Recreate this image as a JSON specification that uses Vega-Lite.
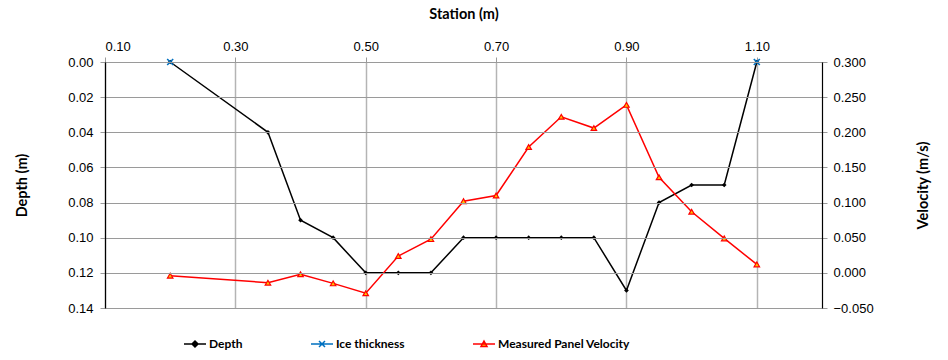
{
  "$schema": "https://vega.github.io/schema/vega-lite/v6.json",
  "width": 717,
  "height": 246,
  "autosize": "none",
  "padding": {"left": 105, "top": 62, "right": 126, "bottom": 52},
  "background": "white",
  "config": {
    "view": {"stroke": null},
    "axis": {
      "labelFont": "Liberation Sans",
      "labelFontSize": 13,
      "labelColor": "#000000",
      "titleFont": "Lato",
      "titleFontWeight": "bold",
      "titleFontSize": 14.5,
      "titleColor": "#000000",
      "tickColor": "#9a9a9a",
      "tickSize": 5,
      "domainColor": "#000000",
      "domainWidth": 1.2
    }
  },
  "datasets": {
    "depth": [
      {"station": 0.20, "series": "Depth", "value": 0.000},
      {"station": 0.35, "series": "Depth", "value": 0.040},
      {"station": 0.40, "series": "Depth", "value": 0.090},
      {"station": 0.45, "series": "Depth", "value": 0.100},
      {"station": 0.50, "series": "Depth", "value": 0.120},
      {"station": 0.55, "series": "Depth", "value": 0.120},
      {"station": 0.60, "series": "Depth", "value": 0.120},
      {"station": 0.65, "series": "Depth", "value": 0.100},
      {"station": 0.70, "series": "Depth", "value": 0.100},
      {"station": 0.75, "series": "Depth", "value": 0.100},
      {"station": 0.80, "series": "Depth", "value": 0.100},
      {"station": 0.85, "series": "Depth", "value": 0.100},
      {"station": 0.90, "series": "Depth", "value": 0.130},
      {"station": 0.95, "series": "Depth", "value": 0.080},
      {"station": 1.00, "series": "Depth", "value": 0.070},
      {"station": 1.05, "series": "Depth", "value": 0.070},
      {"station": 1.10, "series": "Depth", "value": 0.000}
    ],
    "ice": [
      {"station": 0.20, "series": "Ice thickness", "value": 0.000},
      {"station": 1.10, "series": "Ice thickness", "value": 0.000}
    ],
    "velocity": [
      {"station": 0.20, "series": "Measured Panel Velocity", "value": -0.004},
      {"station": 0.35, "series": "Measured Panel Velocity", "value": -0.014},
      {"station": 0.40, "series": "Measured Panel Velocity", "value": -0.002},
      {"station": 0.45, "series": "Measured Panel Velocity", "value": -0.015},
      {"station": 0.50, "series": "Measured Panel Velocity", "value": -0.029},
      {"station": 0.55, "series": "Measured Panel Velocity", "value": 0.024},
      {"station": 0.60, "series": "Measured Panel Velocity", "value": 0.048},
      {"station": 0.65, "series": "Measured Panel Velocity", "value": 0.102},
      {"station": 0.70, "series": "Measured Panel Velocity", "value": 0.110},
      {"station": 0.75, "series": "Measured Panel Velocity", "value": 0.179},
      {"station": 0.80, "series": "Measured Panel Velocity", "value": 0.222},
      {"station": 0.85, "series": "Measured Panel Velocity", "value": 0.206},
      {"station": 0.90, "series": "Measured Panel Velocity", "value": 0.239},
      {"station": 0.95, "series": "Measured Panel Velocity", "value": 0.136},
      {"station": 1.00, "series": "Measured Panel Velocity", "value": 0.087},
      {"station": 1.05, "series": "Measured Panel Velocity", "value": 0.049},
      {"station": 1.10, "series": "Measured Panel Velocity", "value": 0.012}
    ]
  },
  "encoding": {
    "x": {
      "field": "station",
      "type": "quantitative",
      "scale": {"domain": [0.1, 1.2], "nice": false, "zero": false},
      "axis": {
        "orient": "top",
        "title": "Station (m)",
        "values": [0.1, 0.3, 0.5, 0.7, 0.9, 1.1],
        "format": ".2f",
        "grid": true,
        "gridColor": "#b4b4b4",
        "gridWidth": 1.5,
        "labelPadding": 4,
        "titlePadding": 19
      }
    }
  },
  "layer": [
    {
      "encoding": {
        "y": {
          "field": "value",
          "type": "quantitative",
          "scale": {"domain": [0, 0.14], "reverse": true, "nice": false, "zero": false},
          "axis": {
            "orient": "left",
            "title": "Depth (m)",
            "values": [0, 0.02, 0.04, 0.06, 0.08, 0.1, 0.12, 0.14],
            "format": ".2f",
            "grid": true,
            "gridColor": "#9a9a9a",
            "gridWidth": 1,
            "labelPadding": 7,
            "titlePadding": 38,
            "zindex": 1
          }
        }
      },
      "layer": [
        {
          "data": {"name": "depth"},
          "mark": {"type": "line", "strokeWidth": 1.5},
          "encoding": {
            "color": {
              "field": "series",
              "type": "nominal",
              "scale": {
                "domain": ["Depth", "Ice thickness", "Measured Panel Velocity"],
                "range": ["#000000", "#0070C0", "#FF0000"]
              },
              "legend": {
                "orient": "none",
                "legendX": 79,
                "legendY": 271,
                "direction": "horizontal",
                "title": null,
                "labelFont": "Lato",
                "labelFontWeight": "bold",
                "labelFontSize": 12,
                "labelColor": "#000000",
                "labelLimit": 300,
                "symbolSize": 400,
                "symbolStrokeWidth": 1.5,
                "labelOffset": 3,
                "columnPadding": 65,
                "encode": {
                  "symbols": {
                    "update": {
                      "shape": {"signal": "datum.value === 'Depth' ? 'M-1.1,0H1.1M0,-0.3L0.3,0L0,0.3L-0.3,0Z' : datum.value === 'Ice thickness' ? 'M-1.1,0H1.1M-0.3,-0.3L0.3,0.3M-0.3,0.3L0.3,-0.3' : 'M-1.1,0H1.1M0,-0.3L0.3,0.25L-0.3,0.25Z'"},
                      "fill": {"signal": "datum.value === 'Depth' ? '#000000' : datum.value === 'Ice thickness' ? 'transparent' : '#FFC000'"}
                    }
                  }
                }
              }
            }
          }
        },
        {
          "data": {"name": "depth"},
          "mark": {"type": "point", "shape": "diamond", "filled": true, "color": "#000000", "size": 22, "opacity": 1}
        },
        {
          "data": {"name": "ice"},
          "mark": {"type": "point", "shape": "M-1,-1L1,1M-1,1L1,-1", "filled": false, "stroke": "#0070C0", "strokeWidth": 1.6, "size": 36, "opacity": 1}
        }
      ]
    },
    {
      "encoding": {
        "y": {
          "field": "value",
          "type": "quantitative",
          "scale": {"domain": [-0.05, 0.3], "nice": false, "zero": false},
          "axis": {
            "orient": "right",
            "title": "Velocity (m/s)",
            "titleAngle": 270,
            "values": [-0.05, 0, 0.05, 0.1, 0.15, 0.2, 0.25, 0.3],
            "format": ".3f",
            "grid": false,
            "labelPadding": 6,
            "titlePadding": 57,
            "zindex": 1
          }
        }
      },
      "layer": [
        {
          "data": {"name": "velocity"},
          "mark": {"type": "line", "strokeWidth": 1.5},
          "encoding": {
            "color": {
              "field": "series",
              "type": "nominal",
              "scale": {
                "domain": ["Depth", "Ice thickness", "Measured Panel Velocity"],
                "range": ["#000000", "#0070C0", "#FF0000"]
              },
              "legend": {
                "orient": "none",
                "legendX": 79,
                "legendY": 271,
                "direction": "horizontal",
                "title": null,
                "labelFont": "Lato",
                "labelFontWeight": "bold",
                "labelFontSize": 12,
                "labelColor": "#000000",
                "labelLimit": 300,
                "symbolSize": 400,
                "symbolStrokeWidth": 1.5,
                "labelOffset": 3,
                "columnPadding": 65,
                "encode": {
                  "symbols": {
                    "update": {
                      "shape": {"signal": "datum.value === 'Depth' ? 'M-1.1,0H1.1M0,-0.3L0.3,0L0,0.3L-0.3,0Z' : datum.value === 'Ice thickness' ? 'M-1.1,0H1.1M-0.3,-0.3L0.3,0.3M-0.3,0.3L0.3,-0.3' : 'M-1.1,0H1.1M0,-0.3L0.3,0.25L-0.3,0.25Z'"},
                      "fill": {"signal": "datum.value === 'Depth' ? '#000000' : datum.value === 'Ice thickness' ? 'transparent' : '#FFC000'"}
                    }
                  }
                }
              }
            }
          }
        },
        {
          "data": {"name": "velocity"},
          "mark": {"type": "point", "shape": "triangle-up", "filled": true, "fill": "#FFC000", "stroke": "#FF0000", "strokeWidth": 1.2, "size": 30, "opacity": 1}
        }
      ]
    }
  ],
  "resolve": {"scale": {"y": "independent"}}
}
